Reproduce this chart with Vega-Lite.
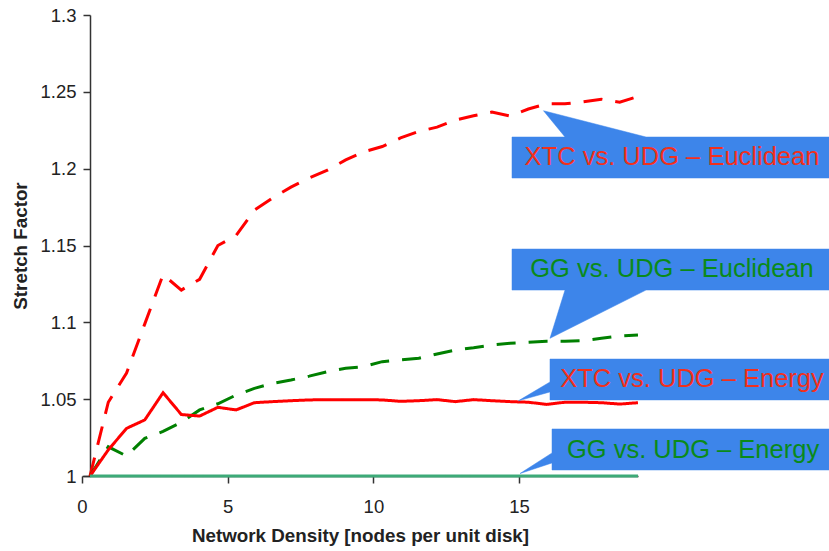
{
  "$schema": "https://vega.github.io/schema/vega-lite/v6.json",
  "width": 556,
  "height": 461,
  "autosize": "none",
  "padding": {"left": 82, "top": 15, "right": 191, "bottom": 75},
  "background": "white",
  "config": {"view": {"stroke": null}, "font": "Liberation Sans"},
  "datasets": {
    "lines": [
      {"x": 0.275, "XTC Euclidean": 1.000, "GG Euclidean": 1.000, "XTC Energy": 1.000, "GG Energy": 1.0},
      {"x": 0.902, "XTC Euclidean": 1.048, "GG Euclidean": 1.019, "XTC Energy": 1.017, "GG Energy": 1.0},
      {"x": 1.529, "XTC Euclidean": 1.067, "GG Euclidean": 1.013, "XTC Energy": 1.031, "GG Energy": 1.0},
      {"x": 2.155, "XTC Euclidean": 1.099, "GG Euclidean": 1.0245, "XTC Energy": 1.0365, "GG Energy": 1.0},
      {"x": 2.782, "XTC Euclidean": 1.131, "GG Euclidean": 1.029, "XTC Energy": 1.0542, "GG Energy": 1.0},
      {"x": 3.409, "XTC Euclidean": 1.121, "GG Euclidean": 1.035, "XTC Energy": 1.040, "GG Energy": 1.0},
      {"x": 4.036, "XTC Euclidean": 1.128, "GG Euclidean": 1.043, "XTC Energy": 1.039, "GG Energy": 1.0},
      {"x": 4.663, "XTC Euclidean": 1.150, "GG Euclidean": 1.047, "XTC Energy": 1.0447, "GG Energy": 1.0},
      {"x": 5.289, "XTC Euclidean": 1.1565, "GG Euclidean": 1.0527, "XTC Energy": 1.043, "GG Energy": 1.0},
      {"x": 5.916, "XTC Euclidean": 1.173, "GG Euclidean": 1.057, "XTC Energy": 1.0477, "GG Energy": 1.0},
      {"x": 6.543, "XTC Euclidean": 1.181, "GG Euclidean": 1.0603, "XTC Energy": 1.0484, "GG Energy": 1.0},
      {"x": 7.170, "XTC Euclidean": 1.188, "GG Euclidean": 1.0625, "XTC Energy": 1.049, "GG Energy": 1.0},
      {"x": 7.797, "XTC Euclidean": 1.194, "GG Euclidean": 1.065, "XTC Energy": 1.0495, "GG Energy": 1.0},
      {"x": 8.423, "XTC Euclidean": 1.199, "GG Euclidean": 1.0679, "XTC Energy": 1.0497, "GG Energy": 1.0},
      {"x": 9.050, "XTC Euclidean": 1.2057, "GG Euclidean": 1.0701, "XTC Energy": 1.0497, "GG Energy": 1.0},
      {"x": 9.677, "XTC Euclidean": 1.211, "GG Euclidean": 1.0712, "XTC Energy": 1.0497, "GG Energy": 1.0},
      {"x": 10.304, "XTC Euclidean": 1.2144, "GG Euclidean": 1.0744, "XTC Energy": 1.0495, "GG Energy": 1.0},
      {"x": 10.931, "XTC Euclidean": 1.220, "GG Euclidean": 1.0755, "XTC Energy": 1.0486, "GG Energy": 1.0},
      {"x": 11.557, "XTC Euclidean": 1.2242, "GG Euclidean": 1.0766, "XTC Energy": 1.049, "GG Energy": 1.0},
      {"x": 12.184, "XTC Euclidean": 1.227, "GG Euclidean": 1.0794, "XTC Energy": 1.0497, "GG Energy": 1.0},
      {"x": 12.811, "XTC Euclidean": 1.2316, "GG Euclidean": 1.082, "XTC Energy": 1.0484, "GG Energy": 1.0},
      {"x": 13.438, "XTC Euclidean": 1.2344, "GG Euclidean": 1.0835, "XTC Energy": 1.0497, "GG Energy": 1.0},
      {"x": 14.065, "XTC Euclidean": 1.2368, "GG Euclidean": 1.0853, "XTC Energy": 1.049, "GG Energy": 1.0},
      {"x": 14.691, "XTC Euclidean": 1.2342, "GG Euclidean": 1.0864, "XTC Energy": 1.0484, "GG Energy": 1.0},
      {"x": 15.318, "XTC Euclidean": 1.2388, "GG Euclidean": 1.087, "XTC Energy": 1.048, "GG Energy": 1.0},
      {"x": 15.945, "XTC Euclidean": 1.2422, "GG Euclidean": 1.0877, "XTC Energy": 1.0466, "GG Energy": 1.0},
      {"x": 16.572, "XTC Euclidean": 1.2422, "GG Euclidean": 1.0877, "XTC Energy": 1.048, "GG Energy": 1.0},
      {"x": 17.199, "XTC Euclidean": 1.2435, "GG Euclidean": 1.0881, "XTC Energy": 1.048, "GG Energy": 1.0},
      {"x": 17.825, "XTC Euclidean": 1.2452, "GG Euclidean": 1.0896, "XTC Energy": 1.0477, "GG Energy": 1.0},
      {"x": 18.452, "XTC Euclidean": 1.2433, "GG Euclidean": 1.0911, "XTC Energy": 1.0468, "GG Energy": 1.0},
      {"x": 19.079, "XTC Euclidean": 1.247, "GG Euclidean": 1.0918, "XTC Energy": 1.0477, "GG Energy": 1.0}
    ],
    "callouts": [
      {"id": "A", "ord": 1, "x": 14.756, "y": 1.2206},
      {"id": "A", "ord": 2, "x": 16.575, "y": 1.2206},
      {"id": "A", "ord": 3, "x": 15.837, "y": 1.2377},
      {"id": "A", "ord": 4, "x": 19.355, "y": 1.2206},
      {"id": "A", "ord": 5, "x": 25.807, "y": 1.2206},
      {"id": "A", "ord": 6, "x": 25.807, "y": 1.1939},
      {"id": "A", "ord": 7, "x": 14.756, "y": 1.1939},
      {"id": "B", "ord": 1, "x": 14.756, "y": 1.1477},
      {"id": "B", "ord": 2, "x": 25.807, "y": 1.1477},
      {"id": "B", "ord": 3, "x": 25.807, "y": 1.1210},
      {"id": "B", "ord": 4, "x": 19.355, "y": 1.1210},
      {"id": "B", "ord": 5, "x": 16.060, "y": 1.0896},
      {"id": "B", "ord": 6, "x": 16.575, "y": 1.1210},
      {"id": "B", "ord": 7, "x": 14.756, "y": 1.1210},
      {"id": "C", "ord": 1, "x": 16.060, "y": 1.0761},
      {"id": "C", "ord": 2, "x": 25.807, "y": 1.0761},
      {"id": "C", "ord": 3, "x": 25.807, "y": 1.0495},
      {"id": "C", "ord": 4, "x": 16.060, "y": 1.0495},
      {"id": "C", "ord": 5, "x": 16.060, "y": 1.0547},
      {"id": "C", "ord": 6, "x": 14.973, "y": 1.0489},
      {"id": "C", "ord": 7, "x": 16.060, "y": 1.0612},
      {"id": "D", "ord": 1, "x": 16.129, "y": 1.0306},
      {"id": "D", "ord": 2, "x": 25.807, "y": 1.0306},
      {"id": "D", "ord": 3, "x": 25.807, "y": 1.0039},
      {"id": "D", "ord": 4, "x": 16.129, "y": 1.0039},
      {"id": "D", "ord": 5, "x": 16.129, "y": 1.0085},
      {"id": "D", "ord": 6, "x": 15.031, "y": 1.0016},
      {"id": "D", "ord": 7, "x": 16.129, "y": 1.0150}
    ],
    "labels": [
      {"x": 20.247, "y": 1.2073, "text": "XTC vs. UDG – Euclidean", "group": "XTC"},
      {"x": 20.247, "y": 1.1344, "text": "GG vs. UDG – Euclidean", "group": "GG"},
      {"x": 20.933, "y": 1.0628, "text": "XTC vs. UDG – Energy", "group": "XTC"},
      {"x": 20.968, "y": 1.0172, "text": "GG vs. UDG – Energy", "group": "GG"}
    ]
  },
  "encoding": {
    "x": {
      "field": "x",
      "type": "quantitative",
      "scale": {"domain": [0, 19.08], "nice": false, "zero": false},
      "axis": {
        "title": "Network Density [nodes per unit disk]",
        "values": [0, 5, 10, 15],
        "grid": false,
        "domainColor": "#333333",
        "domainWidth": 1.5,
        "tickColor": "#333333",
        "tickWidth": 1.5,
        "tickSize": 7,
        "labelFont": "Liberation Sans",
        "labelFontSize": 18.5,
        "labelColor": "#222222",
        "labelPadding": 14,
        "labelFlush": false,
        "titleFont": "Liberation Sans",
        "titleFontSize": 18.8,
        "titleFontWeight": "bold",
        "titleColor": "#222222",
        "titlePadding": 11
      }
    },
    "y": {
      "field": "y",
      "type": "quantitative",
      "scale": {"domain": [1, 1.3], "nice": false, "zero": false},
      "axis": {
        "title": "Stretch Factor",
        "values": [1, 1.05, 1.1, 1.15, 1.2, 1.25, 1.3],
        "format": ".3~f",
        "offset": -8,
        "grid": false,
        "domainColor": "#333333",
        "domainWidth": 1.5,
        "tickColor": "#333333",
        "tickWidth": 1.5,
        "tickSize": 7,
        "labelFont": "Liberation Sans",
        "labelFontSize": 18.5,
        "labelColor": "#222222",
        "labelPadding": 7,
        "labelFlush": false,
        "titleFont": "Liberation Sans",
        "titleFontSize": 18.8,
        "titleFontWeight": "bold",
        "titleColor": "#222222",
        "titlePadding": 9
      }
    }
  },
  "layer": [
    {
      "data": {"name": "lines"},
      "transform": [
        {"fold": ["XTC Euclidean", "GG Euclidean", "XTC Energy", "GG Energy"], "as": ["series", "y"]}
      ],
      "mark": {"type": "line", "strokeWidth": 3},
      "encoding": {
        "color": {
          "field": "series",
          "type": "nominal",
          "scale": {
            "domain": ["XTC Euclidean", "GG Euclidean", "XTC Energy", "GG Energy"],
            "range": ["#ff0000", "#008000", "#ff0000", "#3daa78"]
          },
          "legend": null
        },
        "strokeDash": {
          "field": "series",
          "type": "nominal",
          "scale": {
            "domain": ["XTC Euclidean", "GG Euclidean", "XTC Energy", "GG Energy"],
            "range": [[19, 13], [19, 13], [1, 0], [1, 0]]
          },
          "legend": null
        }
      }
    },
    {
      "data": {"name": "callouts"},
      "mark": {"type": "line", "interpolate": "linear-closed", "fill": "#3d85ea", "stroke": "#3d85ea", "strokeWidth": 0.5},
      "encoding": {
        "detail": {"field": "id", "type": "nominal"},
        "order": {"field": "ord", "type": "quantitative"}
      }
    },
    {
      "data": {"name": "labels"},
      "mark": {"type": "text", "font": "Liberation Sans", "fontSize": 25.5, "align": "center", "baseline": "middle"},
      "encoding": {
        "text": {"field": "text", "type": "nominal"},
        "color": {
          "field": "group",
          "type": "nominal",
          "scale": {"domain": ["XTC", "GG"], "range": ["#f2301c", "#0a8a1a"]},
          "legend": null
        }
      }
    }
  ],
  "resolve": {"scale": {"color": "independent"}}
}
